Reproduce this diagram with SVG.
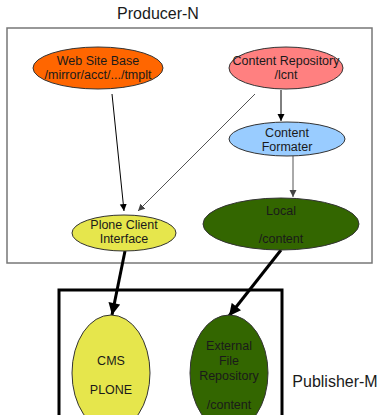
<svg xmlns="http://www.w3.org/2000/svg" width="379" height="415" viewBox="0 0 379 415">
<defs>
<style>
text{font-family:"Liberation Sans",Arial,sans-serif;fill:#1a1a1a;text-anchor:middle}
.n{font-size:12.5px}
.big{font-size:16px}
.node{stroke:#333;stroke-width:1}
.thin{stroke:#000;stroke-width:1;fill:none}
.gray{stroke:#555;stroke-width:1;fill:none}
.thick{stroke:#000;stroke-width:3;fill:none}
</style>
<marker id="ah" viewBox="0 0 10 10" refX="10" refY="5" markerWidth="7" markerHeight="8" markerUnits="userSpaceOnUse" orient="auto"><path d="M0,0 L10,5 L0,10 z" fill="#000"/></marker>
<marker id="ahg" viewBox="0 0 10 10" refX="10" refY="5" markerWidth="7" markerHeight="8" markerUnits="userSpaceOnUse" orient="auto"><path d="M0,0 L10,5 L0,10 z" fill="#444"/></marker>
<marker id="ahb" viewBox="0 0 10 10" refX="10" refY="5" markerWidth="13" markerHeight="12" markerUnits="userSpaceOnUse" orient="auto"><path d="M0,0 L10,5 L0,10 z" fill="#000"/></marker>
</defs>
<rect width="379" height="415" fill="#fff"/>
<g id="producer">
<rect x="7" y="28" width="365" height="235" fill="#fff" stroke="#777" stroke-width="1.5"/>
<text class="big" x="158" y="19">Producer-N</text>
</g>
<g id="publisher">
<rect x="59" y="290" width="223" height="140" fill="#fff" stroke="#000" stroke-width="3"/>
<text class="big" x="335" y="387">Publisher-M</text>
</g>
<g id="connectors">
<line class="thin" x1="112" y1="94" x2="124" y2="211" marker-end="url(#ah)"/>
<line class="gray" x1="255" y1="94" x2="138" y2="211" marker-end="url(#ahg)"/>
<line class="thin" x1="281" y1="90" x2="281" y2="121" marker-end="url(#ah)"/>
<line class="gray" x1="293" y1="156" x2="293" y2="197" marker-end="url(#ahg)"/>
<line class="thick" x1="125" y1="251" x2="112" y2="315" marker-end="url(#ahb)"/>
<line class="thick" x1="281" y1="250" x2="229" y2="316" marker-end="url(#ahb)"/>
</g>
<g id="websitebase">
<ellipse class="node" cx="98" cy="68" rx="65" ry="21" fill="#ff6600"/>
<text class="n" x="98" y="65">Web Site Base</text>
<text class="n" x="98" y="79">/mirror/acct/.../tmplt</text>
</g>
<g id="contentrepo">
<ellipse class="node" cx="286" cy="68" rx="57" ry="21" fill="#ff8080"/>
<text class="n" x="286" y="65">Content Repository</text>
<text class="n" x="286" y="79">/lcnt</text>
</g>
<g id="formater">
<ellipse class="node" cx="287" cy="139" rx="58" ry="17" fill="#99ccff"/>
<text class="n" x="287" y="137">Content</text>
<text class="n" x="287" y="151">Formater</text>
</g>
<g id="local">
<ellipse class="node" cx="281" cy="224" rx="78" ry="26" fill="#336600"/>
<text class="n" x="281" y="215">Local</text>
<text class="n" x="281" y="243">/content</text>
</g>
<g id="plone">
<ellipse class="node" cx="124" cy="233" rx="52" ry="18" fill="#e6e64c"/>
<text class="n" x="124" y="229">Plone Client</text>
<text class="n" x="124" y="243">Interface</text>
</g>
<g id="cms">
<ellipse class="node" cx="111" cy="373" rx="39" ry="58" fill="#e6e64c"/>
<text class="n" x="111" y="365">CMS</text>
<text class="n" x="111" y="394">PLONE</text>
</g>
<g id="external">
<ellipse class="node" cx="229" cy="373" rx="39" ry="58" fill="#336600"/>
<text class="n" x="229" y="350">External</text>
<text class="n" x="229" y="365">File</text>
<text class="n" x="229" y="380">Repository</text>
<text class="n" x="229" y="409">/content</text>
</g>
</svg>
